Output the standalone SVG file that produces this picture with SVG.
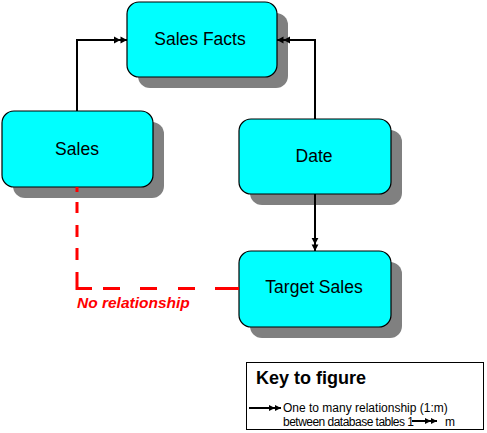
<svg xmlns="http://www.w3.org/2000/svg" width="487" height="433" viewBox="0 0 487 433">
<style>
.shadow{fill:#808080;stroke:none}
.box{fill:#00ffff;stroke:#000;stroke-width:1.2}
.lbl{font-family:"Liberation Sans",Arial,sans-serif;font-size:17.5px;fill:#000;text-anchor:middle}
.conn{fill:none;stroke:#000;stroke-width:2}
.small{font-family:"Liberation Sans",Arial,sans-serif;font-size:12px;fill:#000}
</style>
<defs>
<marker id="dbl" markerUnits="userSpaceOnUse" viewBox="0 -4 13 8" refX="13" refY="0" markerWidth="13" markerHeight="8" orient="auto" overflow="visible">
<path d="M0,-3.4 L6.5,0 L0,3.4 Z M6.5,-3.4 L13,0 L6.5,3.4 Z" fill="#000"/>
</marker>
<marker id="dblS" markerUnits="userSpaceOnUse" viewBox="0 -4 12 8" refX="12" refY="0" markerWidth="12" markerHeight="8" orient="auto" overflow="visible">
<path d="M0,-3 L6,0 L0,3 Z M6,-3 L12,0 L6,3 Z" fill="#000"/>
</marker>
</defs>

<g id="sales-facts">
<rect class="shadow" x="138" y="13" width="150" height="75" rx="12"/>
<rect class="box" x="127" y="2" width="150" height="75" rx="12"/>
<text class="lbl" x="200" y="45">Sales Facts</text>
</g>

<g id="sales">
<rect class="shadow" x="13" y="122" width="151" height="76" rx="12"/>
<rect class="box" x="2" y="111" width="151" height="76" rx="12"/>
<text class="lbl" x="77" y="155">Sales</text>
</g>

<g id="date">
<rect class="shadow" x="250" y="130" width="152" height="75" rx="12"/>
<rect class="box" x="239" y="119" width="152" height="75" rx="12"/>
<text class="lbl" x="314" y="162">Date</text>
</g>

<g id="target-sales">
<rect class="shadow" x="250" y="262" width="152" height="76" rx="12"/>
<rect class="box" x="239" y="251" width="152" height="76" rx="12"/>
<text class="lbl" x="314" y="293">Target Sales</text>
</g>

<g id="connectors">
<path class="conn" d="M77,111 V40 H127" marker-end="url(#dbl)"/>
<path class="conn" d="M315,119 V40 H277" marker-end="url(#dbl)"/>
<path class="conn" d="M315,194 V251" marker-end="url(#dbl)"/>
<path d="M77,187V192 M77,202V213 M77,225V237 M77,248V260 M77,272V288.5H92 M103,288.5H120 M140,288.5H157 M178,288.5H195 M215,288.5H239" fill="none" stroke="#ff0000" stroke-width="3"/>
<text x="77" y="308" font-family="'Liberation Sans',Arial,sans-serif" font-size="15.5" font-style="italic" font-weight="bold" fill="#ff0000">No relationship</text>
</g>

<g id="key">
<rect x="246.5" y="362.5" width="237" height="67" fill="#fff" stroke="#000" stroke-width="1"/>
<text x="256" y="384" font-family="'Liberation Sans',Arial,sans-serif" font-size="18" font-weight="bold" fill="#000">Key to figure</text>
<path class="conn" d="M249,408 H281" stroke-width="1.2" marker-end="url(#dblS)"/>
<text class="small" x="283" y="412">One to many relationship (1:m)</text>
<text class="small" x="283" y="426" textLength="131" lengthAdjust="spacing">between database tables 1</text>
<path class="conn" d="M412,421 H437" stroke-width="1.2" marker-end="url(#dblS)"/>
<text class="small" x="445" y="426">m</text>
</g>
</svg>
